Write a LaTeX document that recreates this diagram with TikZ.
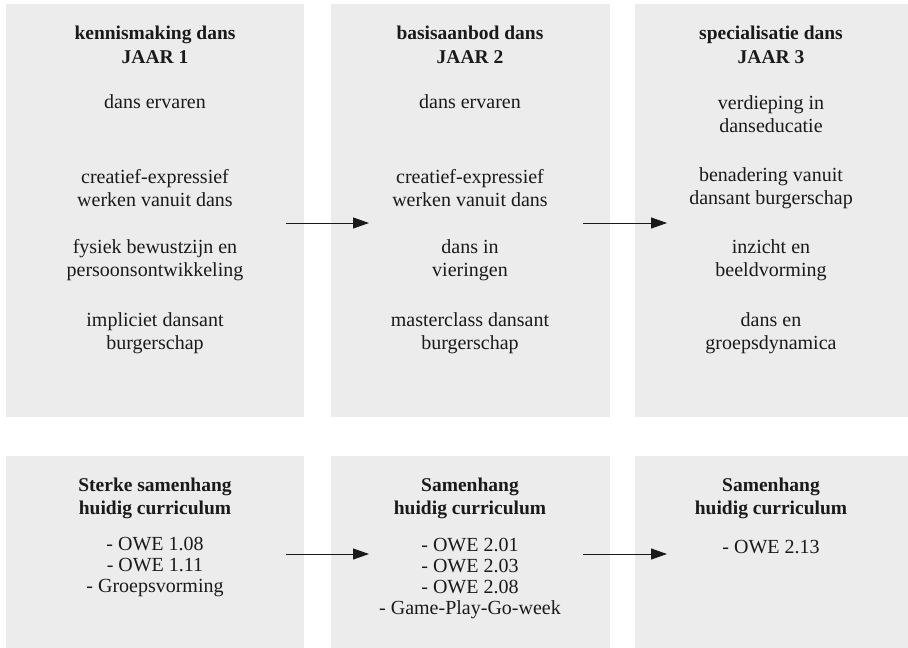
\documentclass[tikz,border=0pt]{standalone}
\usepackage{fontspec}
\setmainfont{Liberation Serif}
\usetikzlibrary{arrows.meta}
\definecolor{boxgray}{HTML}{ECECEC}
\definecolor{txt}{HTML}{1A1A1A}
\begin{document}
\begin{tikzpicture}[x=1pt,y=-1pt,
 panel/.style={fill=boxgray,draw=none,anchor=north west,inner sep=0pt,outer sep=0pt},
 lbl/.style={align=center,font=\fontsize{20}{23}\selectfont,text=txt,inner sep=0pt},
 lst/.style={align=center,font=\fontsize{20}{21}\selectfont,text=txt,inner sep=0pt},
 ttl/.style={align=center,font=\fontsize{19.5}{23.5}\selectfont\bfseries,text=txt,inner sep=0pt},
 flow/.style={-{Triangle[length=16pt,width=11pt]},line width=1pt,draw=txt}]
\useasboundingbox (0,0) rectangle (908,648);
% panels
\node[panel,minimum width=298pt,minimum height=413pt] (p1) at (6,4) {};
\node[panel,minimum width=279pt,minimum height=413pt] (p2) at (331,4) {};
\node[panel,minimum width=273pt,minimum height=413pt] (p3) at (635,4) {};
\node[panel,minimum width=298pt,minimum height=192pt] (q1) at (6,456) {};
\node[panel,minimum width=279pt,minimum height=192pt] (q2) at (331,456) {};
\node[panel,minimum width=273pt,minimum height=192pt] (q3) at (635,456) {};
% column 1 top
\node[ttl] (t1) at (155,45) {kennismaking dans\\JAAR 1};
\node[lbl] (a1) at (155,102) {dans ervaren};
\node[lbl] (b1) at (155,188) {creatief-expressief\\werken vanuit dans};
\node[lbl] (c1) at (155,260) {fysiek bewustzijn en\\persoonsontwikkeling};
\node[lbl] (d1) at (155,333) {impliciet dansant\\burgerschap};
% column 2 top
\node[ttl] (t2) at (470,45) {basisaanbod dans\\JAAR 2};
\node[lbl] (a2) at (470,102) {dans ervaren};
\node[lbl] (b2) at (470,188) {creatief-expressief\\werken vanuit dans};
\node[lbl] (c2) at (470,260) {dans in\\vieringen};
\node[lbl] (d2) at (470,333) {masterclass dansant\\burgerschap};
% column 3 top
\node[ttl] (t3) at (771,45) {specialisatie dans\\JAAR 3};
\node[lbl] (a3) at (771,114) {verdieping in\\danseducatie};
\node[lbl] (b3) at (771,188) {benadering vanuit\\dansant burgerschap};
\node[lbl] (c3) at (771,260) {inzicht en\\beeldvorming};
\node[lbl] (d3) at (771,333) {dans en\\groepsdynamica};
% bottom row
\node[ttl] (s1) at (155,498.5) {Sterke samenhang\\huidig curriculum};
\node[lst] (l1) at (155,567) {- OWE 1.08\\- OWE 1.11\\- Groepsvorming};
\node[ttl] (s2) at (470,498.5) {Samenhang\\huidig curriculum};
\node[lst] (l2) at (470,579) {- OWE 2.01\\- OWE 2.03\\- OWE 2.08\\- Game-Play-Go-week};
\node[ttl] (s3) at (771,498.5) {Samenhang\\huidig curriculum};
\node[lst] (l3) at (771,547) {- OWE 2.13};
% arrows
\coordinate (u1) at (286,223); \coordinate (u2) at (369,223);
\coordinate (u3) at (583,223); \coordinate (u4) at (667,223);
\coordinate (v1) at (286,554); \coordinate (v2) at (369,554);
\coordinate (v3) at (583,554); \coordinate (v4) at (667,554);
\draw[flow] (u1) -- (u2);
\draw[flow] (u3) -- (u4);
\draw[flow] (v1) -- (v2);
\draw[flow] (v3) -- (v4);
\end{tikzpicture}
\end{document}
